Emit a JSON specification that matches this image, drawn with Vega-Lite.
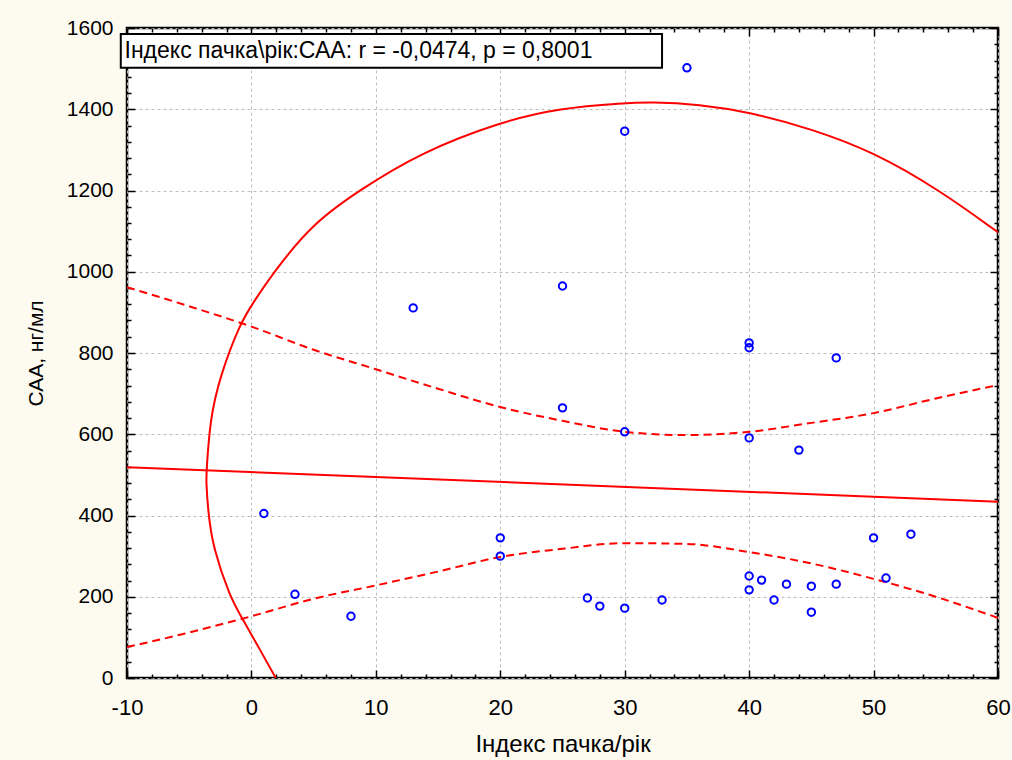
{
  "$schema": "https://vega.github.io/schema/vega-lite/v6.json",
  "width": 871,
  "height": 650,
  "autosize": {"type": "none"},
  "padding": {"left": 127, "top": 28, "right": 14, "bottom": 82},
  "background": "#fdfaf0",
  "config": {
    "view": {"fill": "white", "stroke": "black", "strokeWidth": 2.5},
    "font": "Liberation Sans",
    "axis": {"ticks": true, "tickColor": "black", "tickWidth": 1.5, "tickOpacity": 1, "domain": false, "zindex": 0}
  },
  "datasets": {
    "pts": [
      {"x": 1, "y": 405}, {"x": 3.5, "y": 206}, {"x": 8, "y": 152}, {"x": 13, "y": 911},
      {"x": 20, "y": 345}, {"x": 20, "y": 300}, {"x": 25, "y": 965}, {"x": 25, "y": 665},
      {"x": 27, "y": 197}, {"x": 28, "y": 177}, {"x": 30, "y": 1346}, {"x": 30, "y": 606},
      {"x": 30, "y": 172}, {"x": 33, "y": 192}, {"x": 35, "y": 1502}, {"x": 40, "y": 825},
      {"x": 40, "y": 813}, {"x": 40, "y": 591}, {"x": 40, "y": 251}, {"x": 40, "y": 217},
      {"x": 41, "y": 241}, {"x": 42, "y": 192}, {"x": 43, "y": 231}, {"x": 44, "y": 561},
      {"x": 45, "y": 226}, {"x": 45, "y": 162}, {"x": 47, "y": 788}, {"x": 47, "y": 231},
      {"x": 50, "y": 345}, {"x": 51, "y": 246}, {"x": 53, "y": 354}
    ],
    "reg": [{"x": -10, "y": 519}, {"x": 60, "y": 434}],
    "band": [
      {"x": -10, "upper": 962, "lower": 76}, {"x": -5, "upper": 915, "lower": 112},
      {"x": 0, "upper": 865, "lower": 152}, {"x": 5, "upper": 808, "lower": 195},
      {"x": 10, "upper": 760, "lower": 228}, {"x": 15, "upper": 712, "lower": 262},
      {"x": 20, "upper": 667, "lower": 298}, {"x": 25, "upper": 633, "lower": 318},
      {"x": 30, "upper": 606, "lower": 332}, {"x": 35, "upper": 598, "lower": 330},
      {"x": 40, "upper": 606, "lower": 310}, {"x": 45, "upper": 628, "lower": 282},
      {"x": 50, "upper": 652, "lower": 244}, {"x": 55, "upper": 688, "lower": 200},
      {"x": 60, "upper": 721, "lower": 148}
    ],
    "ellipse": [
      {"i": 1, "x": 2.7, "y": -40}, {"i": 2, "x": 2.05, "y": -5}, {"i": 3, "x": 0.7, "y": 69},
      {"i": 4, "x": -0.76, "y": 148}, {"i": 5, "x": -1.72, "y": 199}, {"i": 6, "x": -3.1, "y": 322},
      {"i": 7, "x": -3.47, "y": 406}, {"i": 8, "x": -3.65, "y": 487}, {"i": 9, "x": -3.6, "y": 512},
      {"i": 10, "x": -3.33, "y": 635}, {"i": 11, "x": -2.55, "y": 741}, {"i": 12, "x": -0.9, "y": 874},
      {"i": 13, "x": 0.13, "y": 923}, {"i": 14, "x": 1.73, "y": 997}, {"i": 15, "x": 4.95, "y": 1120},
      {"i": 16, "x": 8.7, "y": 1201}, {"i": 17, "x": 13.5, "y": 1292}, {"i": 18, "x": 20, "y": 1369},
      {"i": 19, "x": 24.8, "y": 1403}, {"i": 20, "x": 30, "y": 1415}, {"i": 21, "x": 32, "y": 1418},
      {"i": 22, "x": 36, "y": 1412}, {"i": 23, "x": 40, "y": 1393}, {"i": 24, "x": 45, "y": 1352},
      {"i": 25, "x": 50, "y": 1295}, {"i": 26, "x": 55.3, "y": 1201}, {"i": 27, "x": 60, "y": 1097},
      {"i": 28, "x": 61, "y": 1075}
    ],
    "note": [{"label": "Індекс пачка\\рік:САА: r = -0,0474, p = 0,8001"}]
  },
  "resolve": {"axis": {"x": "independent", "y": "independent"}},
  "layer": [
    {
      "data": {"name": "band"},
      "mark": {"type": "line", "color": "#ff0000", "strokeWidth": 2, "strokeDash": [8, 5], "interpolate": "monotone", "clip": true},
      "encoding": {
        "x": {"field": "x", "type": "quantitative", "scale": {"domain": [-10, 60], "nice": false, "zero": false}, "axis": {
          "orient": "bottom", "title": null, "labels": false, "grid": false, "offset": -4,
          "values": [-8,-6,-4,-2,2,4,6,8,12,14,16,18,22,24,26,28,32,34,36,38,42,44,46,48,52,54,56,58],
          "tickSize": 4
        }},
        "y": {"field": "upper", "type": "quantitative", "scale": {"domain": [0, 1600], "nice": false}, "axis": null}
      }
    },
    {
      "data": {"name": "band"},
      "mark": {"type": "line", "color": "#ff0000", "strokeWidth": 2, "strokeDash": [8, 5], "interpolate": "monotone", "clip": true},
      "encoding": {
        "x": {"field": "x", "type": "quantitative", "axis": null},
        "y": {"field": "lower", "type": "quantitative", "axis": {
          "orient": "left", "title": null, "labels": false, "grid": false, "offset": -4,
          "values": [40,80,120,160,240,280,320,360,440,480,520,560,640,680,720,760,840,880,920,960,1040,1080,1120,1160,1240,1280,1320,1360,1440,1480,1520,1560],
          "tickSize": 4
        }}
      }
    },
    {
      "data": {"name": "ellipse"},
      "mark": {"type": "line", "color": "#ff0000", "strokeWidth": 2, "interpolate": "basis", "clip": true},
      "encoding": {
        "x": {"field": "x", "type": "quantitative", "axis": {
          "orient": "top", "title": null, "labels": false, "grid": false, "offset": -4,
          "values": [-8,-6,-4,-2,2,4,6,8,12,14,16,18,22,24,26,28,32,34,36,38,42,44,46,48,52,54,56,58],
          "tickSize": 4
        }},
        "y": {"field": "y", "type": "quantitative", "axis": {
          "orient": "right", "title": null, "labels": false, "grid": false, "offset": -4,
          "values": [40,80,120,160,240,280,320,360,440,480,520,560,640,680,720,760,840,880,920,960,1040,1080,1120,1160,1240,1280,1320,1360,1440,1480,1520,1560],
          "tickSize": 4
        }},
        "order": {"field": "i", "type": "quantitative"}
      }
    },
    {
      "data": {"name": "reg"},
      "mark": {"type": "line", "color": "#ff0000", "strokeWidth": 2, "clip": true},
      "encoding": {
        "x": {"field": "x", "type": "quantitative", "axis": {
          "orient": "top", "title": null, "labels": false, "grid": false, "offset": -8,
          "values": [-10,0,10,20,30,40,50,60],
          "tickSize": 8
        }},
        "y": {"field": "y", "type": "quantitative", "axis": {
          "orient": "right", "title": null, "labels": false, "grid": false, "offset": -8,
          "values": [0,200,400,600,800,1000,1200,1400,1600],
          "tickSize": 8
        }}
      }
    },
    {
      "data": {"name": "pts"},
      "mark": {"type": "point", "filled": false, "color": "#0000ff", "opacity": 1, "size": 55, "strokeWidth": 2},
      "encoding": {
        "x": {"field": "x", "type": "quantitative", "axis": {
          "orient": "bottom", "offset": -8,
          "values": [-10,0,10,20,30,40,50,60],
          "labelExpr": "'' + datum.value",
          "tickSize": 8,
          "grid": true, "gridColor": "#bdbdbd", "gridDash": [3, 3], "gridWidth": 1,
          "labelPadding": 19, "labelFont": "Liberation Sans Narrow, Liberation Sans", "labelFontSize": 22,
          "labelColor": "black", "labelOverlap": false, "labelFlush": false,
          "title": "Індекс пачка/рік", "titleFont": "Liberation Sans Narrow, Liberation Sans", "titleFontSize": 24,
          "titleFontWeight": "normal", "titleColor": "black", "titlePadding": 14
        }},
        "y": {"field": "y", "type": "quantitative", "axis": {
          "orient": "left", "offset": -8,
          "values": [0,200,400,600,800,1000,1200,1400,1600],
          "labelExpr": "'' + datum.value",
          "tickSize": 8,
          "grid": true, "gridColor": "#bdbdbd", "gridDash": [3, 3], "gridWidth": 1,
          "labelPadding": 14, "labelFont": "Liberation Sans", "labelFontSize": 21,
          "labelColor": "black", "labelOverlap": false, "labelFlush": false,
          "title": "САА, нг/мл", "titleFont": "Liberation Sans Narrow, Liberation Sans", "titleFontSize": 21,
          "titleFontWeight": "normal", "titleColor": "black", "titlePadding": 20
        }}
      }
    },
    {
      "data": {"name": "note"},
      "mark": {"type": "rect", "fill": "white", "stroke": "black", "strokeWidth": 2, "clip": false},
      "encoding": {
        "x": {"datum": -10.5, "type": "quantitative", "axis": null},
        "x2": {"datum": 33},
        "y": {"datum": 1502, "type": "quantitative", "axis": null},
        "y2": {"datum": 1585}
      }
    },
    {
      "data": {"name": "note"},
      "mark": {"type": "text", "align": "left", "baseline": "middle", "fontSize": 23, "font": "Liberation Sans", "color": "black", "clip": false},
      "encoding": {
        "x": {"datum": -10.2, "type": "quantitative", "axis": null},
        "y": {"datum": 1543, "type": "quantitative", "axis": null},
        "text": {"field": "label"}
      }
    }
  ]
}
